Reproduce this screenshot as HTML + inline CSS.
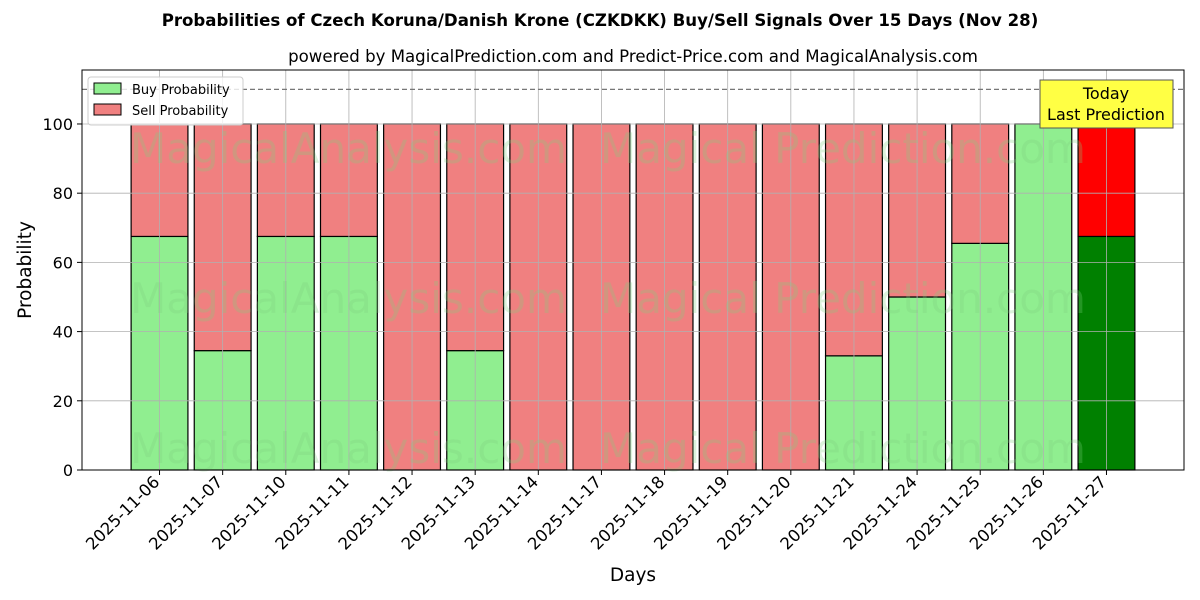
<!DOCTYPE html>
<html><head><meta charset="utf-8"><style>
body{margin:0;background:#fff}
svg{display:block;font-family:"DejaVu Sans","Liberation Sans",sans-serif}
</style></head><body>
<svg id="chart" width="1200" height="600" viewBox="0 0 1200 600">
<text x="600" y="26" text-anchor="middle" font-size="16.6" font-weight="bold">Probabilities of Czech Koruna/Danish Krone (CZKDKK) Buy/Sell Signals Over 15 Days (Nov 28)</text>
<text x="633" y="62" text-anchor="middle" font-size="16.6">powered by MagicalPrediction.com and Predict-Price.com and MagicalAnalysis.com</text>
<g id="bars"></g>
<g id="grid"></g>
<g id="wm" fill="#7ccf7c" fill-opacity="0.28" font-size="42">
<text x="130" y="163">MagicalAnalysis.com</text><text x="600" y="163">Magical Prediction.com</text>
<text x="130" y="313">MagicalAnalysis.com</text><text x="600" y="313">Magical Prediction.com</text>
<text x="130" y="463">MagicalAnalysis.com</text><text x="600" y="463">Magical Prediction.com</text>
</g>
<line x1="82" x2="1184" y1="89.4" y2="89.4" stroke="#777" stroke-dasharray="5,3" stroke-width="1.2"/>
<rect x="82" y="70" width="1102" height="400" fill="none" stroke="#000" stroke-width="1"/>
<g id="axes"></g>
<text x="31" y="270" transform="rotate(-90 31 270)" text-anchor="middle" font-size="18.5">Probability</text>
<text x="633" y="581" text-anchor="middle" font-size="18.5">Days</text>
<g>
<rect x="88" y="77" width="155" height="48" fill="#fff" fill-opacity="0.8" stroke="#ccc" rx="3"/>
<rect x="94" y="83" width="27" height="11" fill="#90ee90" stroke="#000"/>
<text x="132" y="94" font-size="13">Buy Probability</text>
<rect x="94" y="104" width="27" height="11" fill="#f08080" stroke="#000"/>
<text x="132" y="115" font-size="13">Sell Probability</text>
</g>
<g>
<rect x="1040" y="80" width="133" height="48" fill="#ffff44" stroke="#555"/>
<text x="1106" y="99" text-anchor="middle" font-size="16">Today</text>
<text x="1106" y="120" text-anchor="middle" font-size="16">Last Prediction</text>
</g>
</svg>
<script>
const categories=["2025-11-06","2025-11-07","2025-11-10","2025-11-11","2025-11-12","2025-11-13","2025-11-14","2025-11-17","2025-11-18","2025-11-19","2025-11-20","2025-11-21","2025-11-24","2025-11-25","2025-11-26","2025-11-27"];
const buyValues=[67.5,34.5,67.5,67.5,0,34.5,0,0,0,0,0,33,50,65.5,100,67.5];
const sellValues=[32.5,65.5,32.5,32.5,100,65.5,100,100,100,100,100,67,50,34.5,0,32.5];
const yTicks=[0,20,40,60,80,100];
const NS="http://www.w3.org/2000/svg";
const X0=82,X1=1184,Y0=470,Y1=70,xmin=-1.228,xmax=16.228,ymax=115.6;
const xs=i=>X0+(i-xmin)/(xmax-xmin)*(X1-X0);
const ys=v=>Y0-v/ymax*(Y0-Y1);
const bw=0.9*(X1-X0)/(xmax-xmin);
function mk(t,a,p){const e=document.createElementNS(NS,t);for(const k in a)e.setAttribute(k,a[k]);p.appendChild(e);return e;}
const bars=document.getElementById('bars'),grid=document.getElementById('grid'),axes=document.getElementById('axes');
categories.forEach((c,i)=>{
 const last=i===categories.length-1;
 const b=mk('rect',{x:xs(i)-bw/2,y:ys(buyValues[i]),width:bw,height:ys(0)-ys(buyValues[i]),fill:last?'#008000':'#90ee90',stroke:'#000','stroke-width':1.2},bars);
 
 
 const s=mk('rect',{x:xs(i)-bw/2,y:ys(buyValues[i]+sellValues[i]),width:bw,height:ys(buyValues[i])-ys(buyValues[i]+sellValues[i]),fill:last?'#ff0000':'#f08080',stroke:'#000','stroke-width':1.2},bars);
 
 
 const g=mk('line',{x1:xs(i),x2:xs(i),y1:Y1,y2:Y0,stroke:'#b0b0b0','stroke-width':0.8},grid);
 
 
 mk('line',{x1:xs(i),x2:xs(i),y1:Y0,y2:Y0+5,stroke:'#000'},axes);
 const tx=xs(i)+1,ty=Y0+13;
 const t=mk('text',{x:tx,y:ty,'text-anchor':'end','font-size':16.5,transform:`rotate(-45 ${tx} ${ty})`},axes);
 t.textContent=c;
 
 
});
yTicks.forEach(v=>{
 const g=mk('line',{x1:X0,x2:X1,y1:ys(v),y2:ys(v),stroke:'#b0b0b0','stroke-width':0.8},grid);
 
 
 mk('line',{x1:X0-5,x2:X0,y1:ys(v),y2:ys(v),stroke:'#000'},axes);
 const t=mk('text',{x:X0-9,y:ys(v)+6,'text-anchor':'end','font-size':16},axes);
 t.textContent=v;
 
 
});
</script>
</body></html>
